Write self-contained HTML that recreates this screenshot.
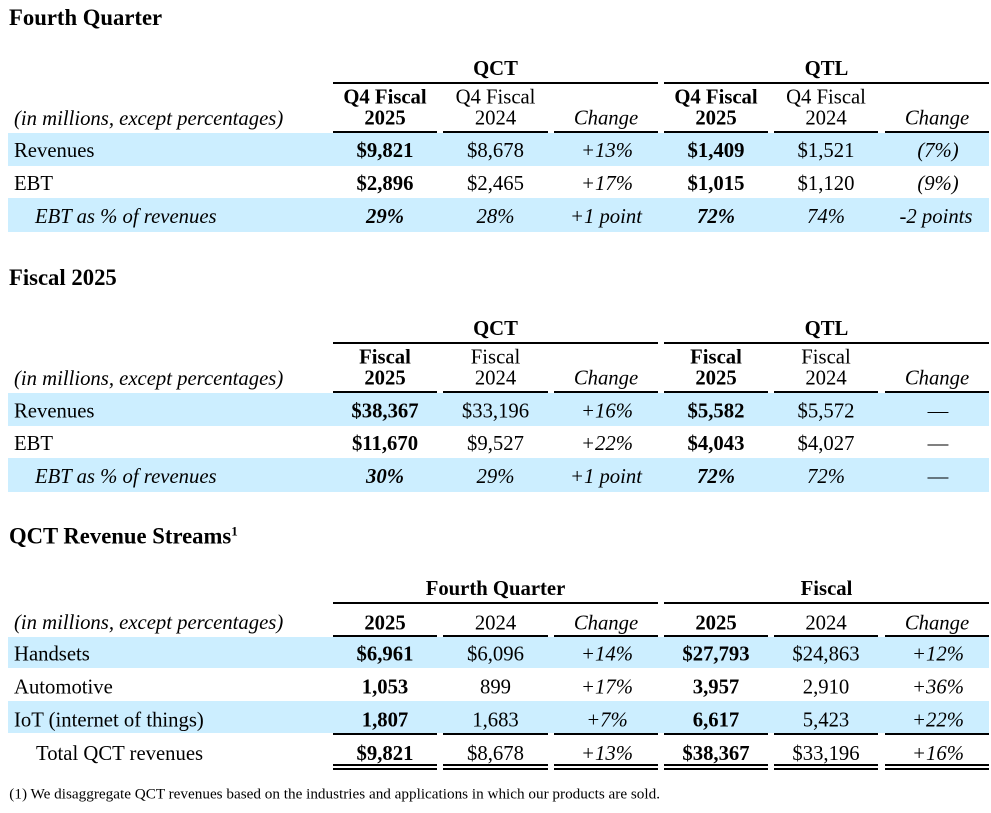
<!DOCTYPE html>
<html>
<head>
<meta charset="utf-8">
<style>
html,body{margin:0;padding:0;background:#fff;}
svg{display:block;}
text{font-family:"Liberation Serif","Times New Roman",serif;fill:#000;}
.t{font-size:22.7px;font-weight:bold;}
.b{font-size:20.7px;font-weight:bold;}
.r{font-size:20.7px;}
.i{font-size:20.7px;font-style:italic;}
.bi{font-size:20.7px;font-style:italic;font-weight:bold;}
.fn{font-size:15.2px;}
</style>
</head>
<body>
<svg width="991" height="813" viewBox="0 0 991 813" xmlns="http://www.w3.org/2000/svg">
<!-- ========== Section 1: Fourth Quarter ========== -->
<text class="t" x="9" y="25">Fourth Quarter</text>
<rect x="8" y="133" width="981" height="33" fill="#CCEEFF"/>
<rect x="8" y="198" width="981" height="34" fill="#CCEEFF"/>
<rect x="333" y="82" width="325" height="2" fill="#000"/>
<rect x="664" y="82" width="325" height="2" fill="#000"/>
<g fill="#000">
<rect x="333" y="131" width="104" height="2"/>
<rect x="443" y="131" width="105" height="2"/>
<rect x="554" y="131" width="104" height="2"/>
<rect x="664" y="131" width="104" height="2"/>
<rect x="774" y="131" width="104" height="2"/>
<rect x="885" y="131" width="104" height="2"/>
</g>
<g text-anchor="middle">
<text class="b" x="495.5" y="75">QCT</text>
<text class="b" x="826.5" y="75">QTL</text>
<text class="b" x="385" y="103.5">Q4 Fiscal</text>
<text class="b" x="385" y="124.5">2025</text>
<text class="r" x="495.5" y="103.5">Q4 Fiscal</text>
<text class="r" x="495.5" y="124.5">2024</text>
<text class="i" x="606" y="124.5">Change</text>
<text class="b" x="716" y="103.5">Q4 Fiscal</text>
<text class="b" x="716" y="124.5">2025</text>
<text class="r" x="826" y="103.5">Q4 Fiscal</text>
<text class="r" x="826" y="124.5">2024</text>
<text class="i" x="937" y="124.5">Change</text>

<text class="b" x="385" y="157">$9,821</text>
<text class="r" x="495.5" y="157">$8,678</text>
<text class="i" x="607" y="157">+13%</text>
<text class="b" x="716" y="157">$1,409</text>
<text class="r" x="826" y="157">$1,521</text>
<text class="i" x="938" y="157">(7%)</text>

<text class="b" x="385" y="190">$2,896</text>
<text class="r" x="495.5" y="190">$2,465</text>
<text class="i" x="607" y="190">+17%</text>
<text class="b" x="716" y="190">$1,015</text>
<text class="r" x="826" y="190">$1,120</text>
<text class="i" x="938" y="190">(9%)</text>

<text class="bi" x="385" y="223">29%</text>
<text class="i" x="495.5" y="223">28%</text>
<text class="i" x="606" y="223">+1 point</text>
<text class="bi" x="716" y="223">72%</text>
<text class="i" x="826" y="223">74%</text>
<text class="i" x="936" y="223">-2 points</text>
</g>
<text class="i" x="14" y="125">(in millions, except percentages)</text>
<text class="r" x="14" y="157">Revenues</text>
<text class="r" x="14" y="190">EBT</text>
<text class="i" x="35" y="223">EBT as % of revenues</text>

<!-- ========== Section 2: Fiscal 2025 ========== -->
<text class="t" x="9" y="285">Fiscal 2025</text>
<rect x="8" y="393" width="981" height="33" fill="#CCEEFF"/>
<rect x="8" y="458" width="981" height="34" fill="#CCEEFF"/>
<rect x="333" y="342" width="325" height="2" fill="#000"/>
<rect x="664" y="342" width="325" height="2" fill="#000"/>
<g fill="#000">
<rect x="333" y="391" width="104" height="2"/>
<rect x="443" y="391" width="105" height="2"/>
<rect x="554" y="391" width="104" height="2"/>
<rect x="664" y="391" width="104" height="2"/>
<rect x="774" y="391" width="104" height="2"/>
<rect x="885" y="391" width="104" height="2"/>
</g>
<g text-anchor="middle">
<text class="b" x="495.5" y="335">QCT</text>
<text class="b" x="826.5" y="335">QTL</text>
<text class="b" x="385" y="363.5">Fiscal</text>
<text class="b" x="385" y="384.5">2025</text>
<text class="r" x="495.5" y="363.5">Fiscal</text>
<text class="r" x="495.5" y="384.5">2024</text>
<text class="i" x="606" y="384.5">Change</text>
<text class="b" x="716" y="363.5">Fiscal</text>
<text class="b" x="716" y="384.5">2025</text>
<text class="r" x="826" y="363.5">Fiscal</text>
<text class="r" x="826" y="384.5">2024</text>
<text class="i" x="937" y="384.5">Change</text>

<text class="b" x="385" y="417.5">$38,367</text>
<text class="r" x="495.5" y="417.5">$33,196</text>
<text class="i" x="607" y="417.5">+16%</text>
<text class="b" x="716" y="417.5">$5,582</text>
<text class="r" x="826" y="417.5">$5,572</text>
<text class="r" x="938" y="417.5">—</text>

<text class="b" x="385" y="450">$11,670</text>
<text class="r" x="495.5" y="450">$9,527</text>
<text class="i" x="607" y="450">+22%</text>
<text class="b" x="716" y="450">$4,043</text>
<text class="r" x="826" y="450">$4,027</text>
<text class="r" x="938" y="450">—</text>

<text class="bi" x="385" y="483">30%</text>
<text class="i" x="495.5" y="483">29%</text>
<text class="i" x="606" y="483">+1 point</text>
<text class="bi" x="716" y="483">72%</text>
<text class="i" x="826" y="483">72%</text>
<text class="r" x="938" y="483">—</text>
</g>
<text class="i" x="14" y="385">(in millions, except percentages)</text>
<text class="r" x="14" y="417.5">Revenues</text>
<text class="r" x="14" y="450">EBT</text>
<text class="i" x="35" y="483">EBT as % of revenues</text>

<!-- ========== Section 3: QCT Revenue Streams ========== -->
<text class="t" x="9" y="543.5">QCT Revenue Streams<tspan font-size="13" dy="-8">1</tspan></text>
<rect x="8" y="637" width="981" height="31" fill="#CCEEFF"/>
<rect x="8" y="701" width="981" height="32" fill="#CCEEFF"/>
<rect x="333" y="602" width="325" height="2" fill="#000"/>
<rect x="664" y="602" width="325" height="2" fill="#000"/>
<g fill="#000">
<rect x="333" y="635" width="104" height="2"/>
<rect x="443" y="635" width="105" height="2"/>
<rect x="554" y="635" width="104" height="2"/>
<rect x="664" y="635" width="104" height="2"/>
<rect x="774" y="635" width="104" height="2"/>
<rect x="885" y="635" width="104" height="2"/>

<rect x="333" y="733" width="104" height="2"/>
<rect x="443" y="733" width="105" height="2"/>
<rect x="554" y="733" width="104" height="2"/>
<rect x="664" y="733" width="104" height="2"/>
<rect x="774" y="733" width="104" height="2"/>
<rect x="885" y="733" width="104" height="2"/>

<rect x="333" y="764" width="104" height="2"/>
<rect x="443" y="764" width="105" height="2"/>
<rect x="554" y="764" width="104" height="2"/>
<rect x="664" y="764" width="104" height="2"/>
<rect x="774" y="764" width="104" height="2"/>
<rect x="885" y="764" width="104" height="2"/>

<rect x="333" y="768" width="104" height="2"/>
<rect x="443" y="768" width="105" height="2"/>
<rect x="554" y="768" width="104" height="2"/>
<rect x="664" y="768" width="104" height="2"/>
<rect x="774" y="768" width="104" height="2"/>
<rect x="885" y="768" width="104" height="2"/>
</g>
<g text-anchor="middle">
<text class="b" x="495.5" y="595">Fourth Quarter</text>
<text class="b" x="826.5" y="595">Fiscal</text>
<text class="b" x="385" y="629.5">2025</text>
<text class="r" x="495.5" y="629.5">2024</text>
<text class="i" x="606" y="629.5">Change</text>
<text class="b" x="716" y="629.5">2025</text>
<text class="r" x="826" y="629.5">2024</text>
<text class="i" x="937" y="629.5">Change</text>

<text class="b" x="385" y="660.5">$6,961</text>
<text class="r" x="495.5" y="660.5">$6,096</text>
<text class="i" x="607" y="660.5">+14%</text>
<text class="b" x="716" y="660.5">$27,793</text>
<text class="r" x="826" y="660.5">$24,863</text>
<text class="i" x="938" y="660.5">+12%</text>

<text class="b" x="385" y="693.5">1,053</text>
<text class="r" x="495.5" y="693.5">899</text>
<text class="i" x="607" y="693.5">+17%</text>
<text class="b" x="716" y="693.5">3,957</text>
<text class="r" x="826" y="693.5">2,910</text>
<text class="i" x="938" y="693.5">+36%</text>

<text class="b" x="385" y="726.5">1,807</text>
<text class="r" x="495.5" y="726.5">1,683</text>
<text class="i" x="607" y="726.5">+7%</text>
<text class="b" x="716" y="726.5">6,617</text>
<text class="r" x="826" y="726.5">5,423</text>
<text class="i" x="938" y="726.5">+22%</text>

<text class="b" x="385" y="760">$9,821</text>
<text class="r" x="495.5" y="760">$8,678</text>
<text class="i" x="607" y="760">+13%</text>
<text class="b" x="716" y="760">$38,367</text>
<text class="r" x="826" y="760">$33,196</text>
<text class="i" x="938" y="760">+16%</text>
</g>
<text class="i" x="14" y="629">(in millions, except percentages)</text>
<text class="r" x="14" y="660.5">Handsets</text>
<text class="r" x="14" y="693.5">Automotive</text>
<text class="r" x="14" y="726.5">IoT (internet of things)</text>
<text class="r" x="36" y="760">Total QCT revenues</text>

<text class="fn" x="9.3" y="798.5">(1) We disaggregate QCT revenues based on the industries and applications in which our products are sold.</text>
</svg>
</body>
</html>
